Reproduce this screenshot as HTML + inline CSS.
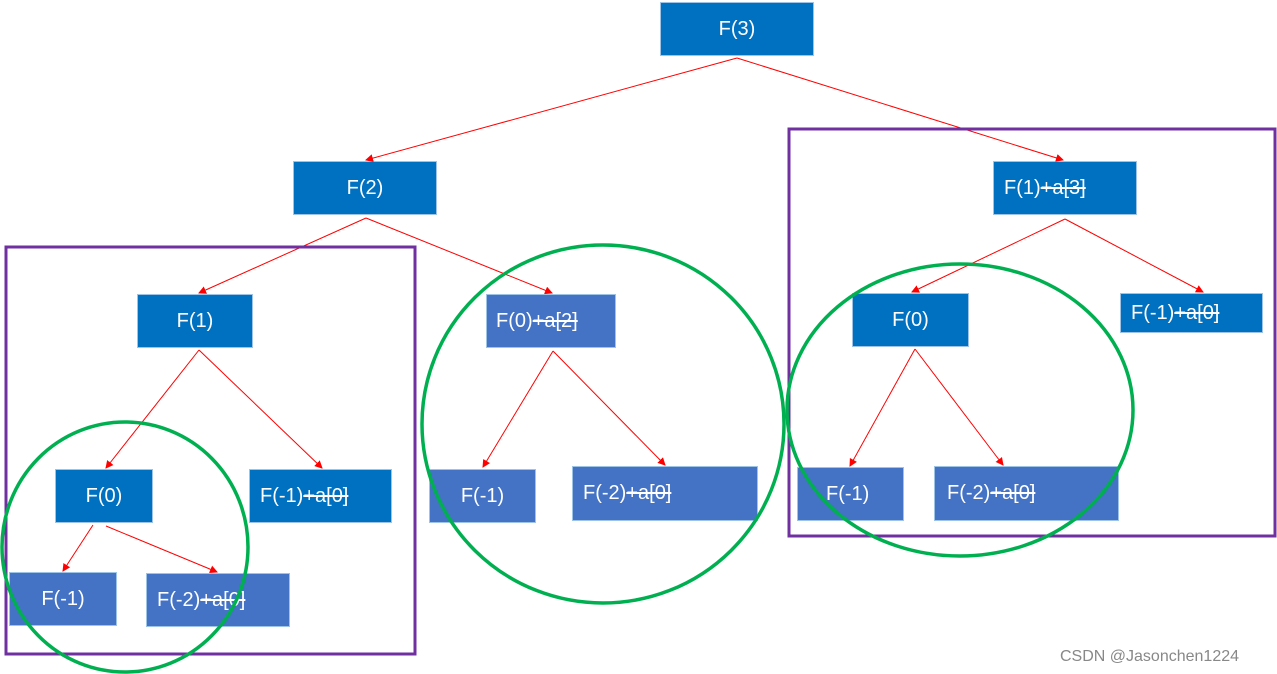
<!DOCTYPE html>
<html><head><meta charset="utf-8"><style>
body{margin:0;width:1277px;height:674px;background:#fff;position:relative;overflow:hidden;font-family:"Liberation Sans",sans-serif}
.b{position:absolute;background:#0070C0;color:#fff;font-size:20px;display:flex;align-items:center;box-sizing:border-box;white-space:nowrap;border:1px solid #9dc3e6}
.l{background:#4472C4}
.c{justify-content:center}
.b s{text-decoration-thickness:1.5px}
svg{position:absolute;left:0;top:0}
.w{position:absolute;left:1060px;top:648px;font-size:16px;color:#888}
</style></head><body>
<div class="b c" style="left:660px;top:2px;width:154px;height:54px">F(3)</div>
<div class="b c" style="left:293px;top:161px;width:144px;height:54px">F(2)</div>
<div class="b" style="left:993px;top:161px;width:144px;height:54px;padding-left:10px">F(1)<s>+a[3]</s></div>
<div class="b c" style="left:137px;top:294px;width:116px;height:54px">F(1)</div>
<div class="b l" style="left:486px;top:294px;width:130px;height:54px;padding-left:9px">F(0)<s>+a[2]</s></div>
<div class="b c" style="left:852px;top:293px;width:117px;height:54px">F(0)</div>
<div class="b" style="left:1120px;top:293px;width:143px;height:40px;padding-left:10px">F(-1)<s>+a[0]</s></div>
<div class="b c" style="left:55px;top:469px;width:98px;height:54px">F(0)</div>
<div class="b" style="left:249px;top:469px;width:143px;height:54px;padding-left:10px">F(-1)<s>+a[0]</s></div>
<div class="b l c" style="left:429px;top:469px;width:107px;height:54px">F(-1)</div>
<div class="b l" style="left:572px;top:466px;width:186px;height:55px;padding-left:10px">F(-2)<s>+a[0]</s></div>
<div class="b l" style="left:797px;top:467px;width:107px;height:54px;padding-left:28px">F(-1)</div>
<div class="b l" style="left:934px;top:466px;width:185px;height:55px;padding-left:12px">F(-2)<s>+a[0]</s></div>
<div class="b l c" style="left:9px;top:572px;width:108px;height:54px">F(-1)</div>
<div class="b l" style="left:146px;top:573px;width:144px;height:54px;padding-left:10px">F(-2)<s>+a[0]</s></div>
<svg width="1277" height="674">
<defs><marker id="a" markerWidth="8" markerHeight="8" refX="7" refY="4" orient="auto" markerUnits="userSpaceOnUse"><path d="M0,0 L8,4 L0,8z" fill="#f00"/></marker></defs>
<g stroke="#f00" stroke-width="1" marker-end="url(#a)">
<line x1="737" y1="58" x2="366" y2="160"/><line x1="737" y1="58" x2="1063" y2="160"/>
<line x1="366" y1="218" x2="199" y2="293"/><line x1="366" y1="218" x2="552" y2="293"/>
<line x1="199" y1="350" x2="106" y2="468"/><line x1="199" y1="350" x2="322" y2="468"/>
<line x1="93" y1="525" x2="63" y2="571"/><line x1="106" y1="526" x2="217" y2="572"/>
<line x1="553" y1="351" x2="483" y2="467"/><line x1="553" y1="351" x2="665" y2="465"/>
<line x1="1065" y1="219" x2="912" y2="292"/><line x1="1065" y1="219" x2="1203" y2="292"/>
<line x1="915" y1="349" x2="850" y2="466"/><line x1="915" y1="349" x2="1003" y2="465"/>
</g>
<g fill="none">
<rect x="6" y="247" width="409" height="407" stroke="#7030A0" stroke-width="3"/>
<rect x="789" y="129" width="486" height="407" stroke="#7030A0" stroke-width="3"/>
<g stroke="#00B050" stroke-width="3.5">
<ellipse cx="125" cy="547" rx="123" ry="125"/>
<ellipse cx="603" cy="424" rx="181" ry="179"/>
<ellipse cx="960" cy="410" rx="173" ry="146"/>
</g></g>
</svg>
<div class="w">CSDN @Jasonchen1224</div>
</body></html>
